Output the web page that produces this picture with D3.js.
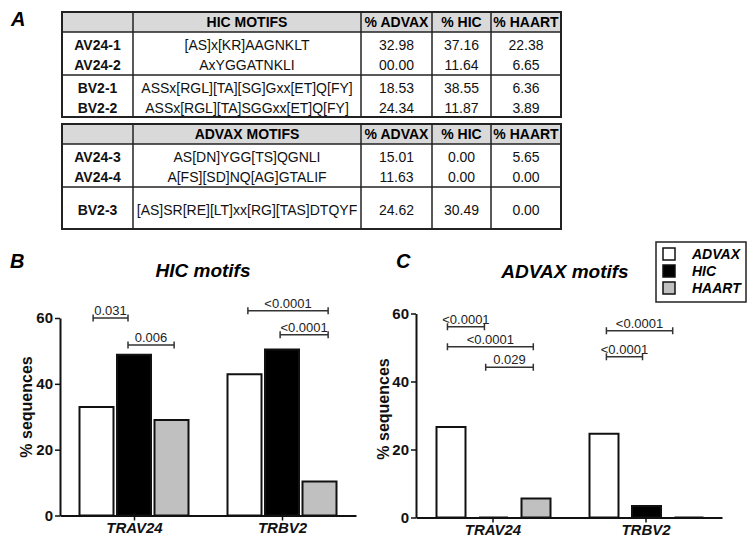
<!DOCTYPE html>
<html>
<head>
<meta charset="utf-8">
<script src="https://cdn.jsdelivr.net/npm/d3@7"></script>
<style>
body{margin:0;background:#fff;}
svg{display:block;font-family:"Liberation Sans",Arial,Helvetica,sans-serif;}
</style>
</head>
<body>
<svg id="fig" width="754" height="546"></svg>
<script>
// ---- panel A : motif tables ----
var hicHeads = ["", "HIC MOTIFS", "% ADVAX", "% HIC", "% HAART"];
var hicNames = ["AV24-1", "AV24-2", "BV2-1", "BV2-2"];
var hicMotifs = ["[AS]x[KR]AAGNKLT", "AxYGGATNKLI", "ASSx[RGL][TA][SG]Gxx[ET]Q[FY]", "ASSx[RGL][TA]SGGxx[ET]Q[FY]"];
var hicPctAdvax = ["32.98", "00.00", "18.53", "24.34"];
var hicPctHic = ["37.16", "11.64", "38.55", "11.87"];
var hicPctHaart = ["22.38", "6.65", "6.36", "3.89"];
var hicGroups = [2, 2];

var advaxHeads = ["", "ADVAX MOTIFS", "% ADVAX", "% HIC", "% HAART"];
var advaxNames = ["AV24-3", "AV24-4", "BV2-3"];
var advaxMotifs = ["AS[DN]YGG[TS]QGNLI", "A[FS][SD]NQ[AG]GTALIF", "[AS]SR[RE][LT]xx[RG][TAS]DTQYF"];
var advaxPctAdvax = ["15.01", "11.63", "24.62"];
var advaxPctHic = ["0.00", "0.00", "30.49"];
var advaxPctHaart = ["5.65", "0.00", "0.00"];
var advaxGroups = [2, 1];

// ---- panels B and C : bar charts ----
var genes = ["TRAV24", "TRBV2"];
var cohorts = ["ADVAX", "HIC", "HAART"];
var yTicks = [0, 20, 40, 60];

var hicBarAdvax = [33.0, 42.9];
var hicBarHic = [48.8, 50.4];
var hicBarHaart = [29.0, 10.3];

var advaxBarAdvax = [26.6, 24.6];
var advaxBarHic = [0, 3.4];
var advaxBarHaart = [5.6, 0];

// p value brackets: positions in bar units (0 = ADVAX bar, 2 = HAART bar)
var hicPvals = [
  {gene: "TRAV24", from: -0.09, to: 0.84, y: 60.0, p: "0.031"},
  {gene: "TRAV24", from: 0.84, to: 2.07, y: 51.8, p: "0.006"},
  {gene: "TRBV2", from: 0.09, to: 2.23, y: 62.2, p: "<0.0001"},
  {gene: "TRBV2", from: 0.95, to: 2.23, y: 54.9, p: "<0.0001"}
];
var advaxPvals = [
  {gene: "TRAV24", from: -0.06, to: 0.81, y: 56.1, p: "<0.0001"},
  {gene: "TRAV24", from: -0.06, to: 1.96, y: 50.2, p: "<0.0001"},
  {gene: "TRAV24", from: 0.84, to: 1.96, y: 44.2, p: "0.029"},
  {gene: "TRBV2", from: 0.08, to: 1.64, y: 54.9, p: "<0.0001"},
  {gene: "TRBV2", from: 0.08, to: 0.93, y: 47.3, p: "<0.0001"}
];

var fills = {ADVAX: "#ffffff", HIC: "#000000", HAART: "#c0c0c0"};

var svg = d3.select("#fig");

// panel letters
svg.selectAll("text.panel")
  .data([["A", 11, 26], ["B", 10, 268], ["C", 396, 268]])
  .enter().append("text")
  .attr("class", "panel")
  .attr("x", function(d){ return d[1]; })
  .attr("y", function(d){ return d[2]; })
  .attr("font-size", 20).attr("font-weight", "bold").attr("font-style", "italic")
  .text(function(d){ return d[0]; });

// ---------- tables ----------
var colEdges = [62, 133, 361, 432, 491, 561];

function motifTable(top, heads, names, motifs, a, h, t, groups) {
  var g = svg.append("g");
  var headH = 20, groupH = [43, 42];
  // header bg
  g.append("rect").attr("x", colEdges[0]).attr("y", top)
    .attr("width", colEdges[5] - colEdges[0]).attr("height", headH)
    .attr("fill", "#d9d9d9");
  g.selectAll("text.head").data(heads).enter().append("text")
    .attr("x", function(d, i){ return (colEdges[i] + colEdges[i + 1]) / 2; })
    .attr("y", top + headH / 2).attr("dy", "0.36em")
    .attr("text-anchor", "middle").attr("font-size", 14).attr("font-weight", "bold")
    .text(function(d){ return d; });

  var rowY = [], lines = [top + headH];
  var gy = top + headH, k = 0;
  groups.forEach(function(n, gi){
    var gh = groupH[gi];
    for (var r = 0; r < n; r++) {
      rowY.push(gy + gh / 2 + 1.5 + (r - (n - 1) / 2) * 20);
      k++;
    }
    gy += gh;
    lines.push(gy);
  });

  var cols = [names, motifs, a, h, t];
  cols.forEach(function(col, ci){
    g.selectAll("text.c" + ci).data(col).enter().append("text")
      .attr("x", (colEdges[ci] + colEdges[ci + 1]) / 2)
      .attr("y", function(d, i){ return rowY[i]; }).attr("dy", "0.36em")
      .attr("text-anchor", "middle").attr("font-size", 14)
      .attr("font-weight", ci == 0 ? "bold" : "normal")
      .attr("fill", "#111")
      .text(function(d){ return d; });
  });

  // grid lines
  var bottom = lines[lines.length - 1];
  g.selectAll("line.h").data(lines.slice(0, lines.length - 1)).enter().append("line")
    .attr("x1", colEdges[0]).attr("x2", colEdges[5])
    .attr("y1", function(d){ return d; }).attr("y2", function(d){ return d; })
    .attr("stroke", "#222").attr("stroke-width", 1.5);
  g.selectAll("line.v").data(colEdges.slice(1, 5)).enter().append("line")
    .attr("x1", function(d){ return d; }).attr("x2", function(d){ return d; })
    .attr("y1", top).attr("y2", bottom)
    .attr("stroke", "#222").attr("stroke-width", 1.5);
  g.append("rect").attr("x", colEdges[0]).attr("y", top)
    .attr("width", colEdges[5] - colEdges[0]).attr("height", bottom - top)
    .attr("fill", "none").attr("stroke", "#222").attr("stroke-width", 2);
}

motifTable(12, hicHeads, hicNames, hicMotifs, hicPctAdvax, hicPctHic, hicPctHaart, hicGroups);
motifTable(124, advaxHeads, advaxNames, advaxMotifs, advaxPctAdvax, advaxPctHic, advaxPctHaart, advaxGroups);

// ---------- bar charts ----------
function barChart(o) {
  var g = svg.append("g");
  var x0 = d3.scalePoint().domain(genes).range([o.left, o.right]).padding(0.5);
  var y = d3.scaleLinear().domain([0, 60]).range([o.bottom, o.top]);
  var off = function(pos){ return (pos - 1) * o.step; };

  var rows = [];
  genes.forEach(function(gene, gi){
    cohorts.forEach(function(c, ci){
      rows.push({gene: gene, cohort: c, idx: ci, v: o.values[ci][gi]});
    });
  });

  g.selectAll("path.bar").data(rows).enter().append("path")
    .attr("class", "bar")
    .attr("d", function(d){
      var xc = x0(d.gene) + off(d.idx) + o.shift;
      var x = xc - o.bw / 2, h = y(0) - y(d.v);
      return "M" + x + "," + y(0) + "v" + (-h) + "h" + o.bw + "v" + h + "Z";
    })
    .attr("fill", function(d){ return fills[d.cohort]; })
    .attr("stroke", "#111").attr("stroke-width", 2);

  // axes
  var ya = g.append("g").attr("transform", "translate(" + o.left + ",0)")
    .call(d3.axisLeft(y).tickValues(yTicks).tickSize(5).tickSizeOuter(0).tickPadding(2));
  var xa = g.append("g").attr("transform", "translate(0," + y(0) + ")")
    .call(d3.axisBottom(x0).tickSize(5).tickSizeOuter(0).tickPadding(2));
  [ya, xa].forEach(function(a){
    a.select(".domain").attr("stroke", "#111").attr("stroke-width", 2);
    a.selectAll(".tick line").attr("stroke", "#111").attr("stroke-width", 1.5);
    a.selectAll("text").attr("fill", "#111").attr("font-family", null)
      .attr("font-size", 15).attr("font-weight", "bold");
  });
  xa.selectAll("text").attr("font-style", "italic");

  g.append("text")
    .attr("transform", "translate(" + o.ylabX + "," + o.ylabY + ")rotate(-90)")
    .attr("text-anchor", "middle").attr("dy", "0.35em")
    .attr("font-size", 16).attr("font-weight", "bold").attr("fill", "#111")
    .text("% sequences");

  g.append("text").attr("x", o.titleX).attr("y", o.titleY)
    .attr("text-anchor", "middle").attr("font-size", 19)
    .attr("font-weight", "bold").attr("font-style", "italic")
    .text(o.title);

  // brackets
  var br = g.selectAll("g.br").data(o.pvals).enter().append("g");
  br.each(function(d){
    var s = d3.select(this);
    var x1 = x0(d.gene) + off(d.from), x2 = x0(d.gene) + off(d.to), yy = y(d.y);
    s.append("path")
      .attr("d", "M" + x1 + "," + yy + "H" + x2 + "M" + x1 + "," + (yy - 3.5) + "V" + (yy + 3.5) + "M" + x2 + "," + (yy - 3.5) + "V" + (yy + 3.5))
      .attr("stroke", "#333").attr("stroke-width", 1.5).attr("fill", "none");
    s.append("text").attr("x", (x1 + x2) / 2).attr("y", yy - 3)
      .attr("text-anchor", "middle").attr("font-size", 13).attr("fill", "#222")
      .text(d.p);
  });
}

barChart({
  left: 60, right: 356, top: 318, bottom: 515.5, step: 37.5, bw: 34, shift: 0,
  values: [hicBarAdvax, hicBarHic, hicBarHaart], pvals: hicPvals,
  title: "HIC motifs", titleX: 203, titleY: 277, ylabX: 26, ylabY: 407
});

barChart({
  left: 416, right: 722, top: 313.5, bottom: 517.5, step: 42.5, bw: 29, shift: 1,
  values: [advaxBarAdvax, advaxBarHic, advaxBarHaart], pvals: advaxPvals,
  title: "ADVAX motifs", titleX: 565, titleY: 278, ylabX: 383, ylabY: 409
});

// legend
var leg = svg.append("g");
leg.append("rect").attr("x", 656).attr("y", 242).attr("width", 90).attr("height", 60)
  .attr("fill", "#fff").attr("stroke", "#222").attr("stroke-width", 1.5);
var li = leg.selectAll("g.li").data(cohorts).enter().append("g")
  .attr("transform", function(d, i){ return "translate(663," + (254 + i * 17) + ")"; });
li.append("rect").attr("x", 0).attr("y", -6).attr("width", 12).attr("height", 12)
  .attr("fill", function(d){ return fills[d]; }).attr("stroke", "#111").attr("stroke-width", 1.5);
li.append("text").attr("x", 29).attr("dy", "0.36em")
  .attr("font-size", 14).attr("font-weight", "bold").attr("font-style", "italic")
  .text(function(d){ return d; });
</script>
</body>
</html>
